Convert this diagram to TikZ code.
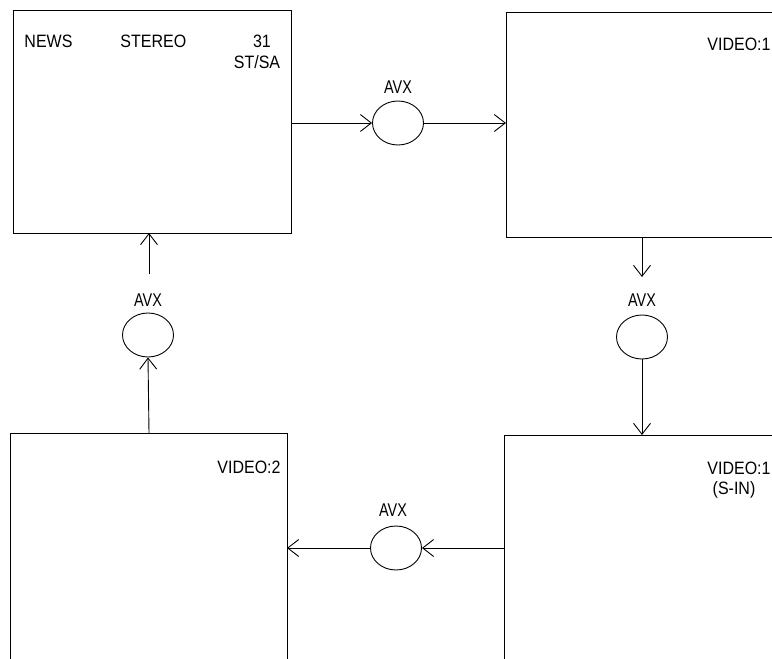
\documentclass[tikz,border=0pt]{standalone}
\usepackage{fontspec}
\setmainfont{Liberation Sans}
\usetikzlibrary{arrows.meta,shapes.geometric}
\newcommand{\tall}[1]{\scalebox{1}[1.12]{#1}}
\newcommand{\narrowtall}[1]{\scalebox{0.9}[1.15]{#1}}
\begin{document}
\begin{tikzpicture}[x=1pt,y=-1pt,line width=0.9pt,
  panel/.style={draw,rectangle},
  avx/.style={draw,ellipse,minimum width=51pt,minimum height=44pt,inner sep=0pt},
  lbl/.style={font=\fontsize{16}{18}\selectfont,inner sep=0pt},
  conn/.style={-{Straight Barb[length=11pt,width=17pt,line width=0.9pt]}}]
\useasboundingbox (0,0) rectangle (772,659);
% boxes
\draw[panel] (13,10) rectangle (291,233);
\draw[panel] (506,12) rectangle (790,237);
\draw[panel] (10,433) rectangle (287,670);
\draw[panel] (504,435) rectangle (790,670);
\coordinate (b1e) at (291,123);
\coordinate (b1s) at (149,233);
\coordinate (b2w) at (506,123);
\coordinate (b2s) at (642,237);
\coordinate (b3n) at (149,433);
\coordinate (b3e) at (287,548);
\coordinate (b4n) at (642,435);
\coordinate (b4w) at (504,548);
% texts
\node[lbl,anchor=base west] (news) at (24,47) {\tall{NEWS}};
\node[lbl,anchor=base west] (stereo) at (120,47) {\tall{STEREO}};
\node[lbl,anchor=base] (n31) at (262,47) {\tall{31}};
\node[lbl,anchor=base] (stsa) at (257,68) {\tall{ST/SA}};
\node[lbl,anchor=base east] (v1a) at (771,50) {\tall{VIDEO:1}};
\node[lbl,anchor=base east] (v2) at (281,473) {\tall{VIDEO:2}};
\node[lbl,anchor=base east] (v1b) at (771,474) {\tall{VIDEO:1}};
\node[lbl,anchor=base] (sin) at (734,494) {\tall{(S-IN)}};
% ellipses
\node[avx] (e1) at (398,123) {};
\node[avx] (e2) at (642,337) {};
\node[avx] (e3) at (396,548) {};
\node[avx] (e4) at (148,335) {};
\node[lbl] (a1) at (398,87) {\narrowtall{AVX}};
\node[lbl] (a2) at (642,300) {\narrowtall{AVX}};
\node[lbl] (a3) at (393,510) {\narrowtall{AVX}};
\node[lbl] (a4) at (148,300) {\narrowtall{AVX}};
\coordinate (r1) at (642,277);
\coordinate (l1) at (149,274);
% connectors
\draw[conn] (b1e) -- (e1.west);
\draw[conn] (e1.east) -- (b2w);
\draw[conn] (b2s) -- (r1);
\draw[conn] (e2.south) -- (b4n);
\draw[conn] (b4w) -- (e3.east);
\draw[conn] (e3.west) -- (b3e);
\draw[conn] (b3n) -- (e4.south);
\draw[conn] (l1) -- (b1s);
\end{tikzpicture}
\end{document}
